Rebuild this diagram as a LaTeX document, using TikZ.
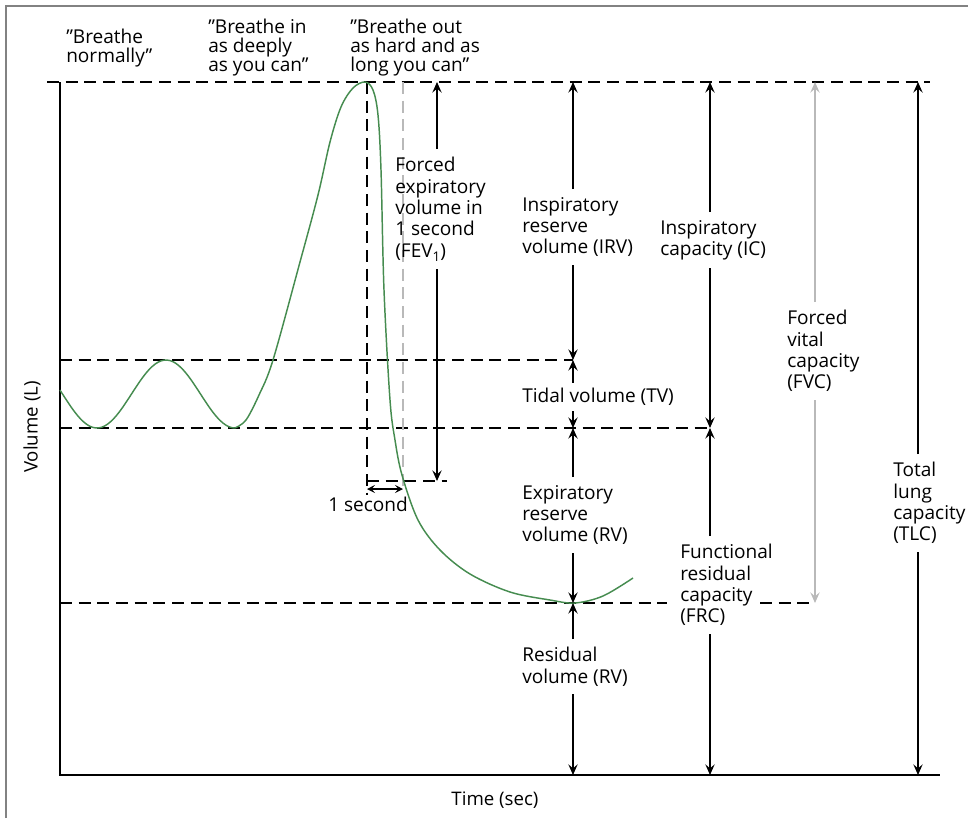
\documentclass[tikz,border=0pt]{standalone}
\usepackage{fontspec}
\setmainfont{Open Sans}
\usetikzlibrary{arrows.meta}
\definecolor{curvegreen}{RGB}{70,140,80}
\definecolor{framegray}{RGB}{130,130,130}
\definecolor{lightgray2}{RGB}{185,185,185}
\newcommand{\dq}{\symbol{34}}
\tikzset{
  dline/.style={line width=1.5pt, dash pattern=on 9pt off 5pt},
  arr/.style={line width=0.9pt, -{Stealth[length=8pt,width=7pt,inset=3pt]}},
  lbl/.style={anchor=north west, inner sep=0pt, align=left, font=\fontsize{14.3}{16}\selectfont},
  qlbl/.style={anchor=north west, inner sep=0pt, align=left, font=\fontsize{14.3}{14.3}\selectfont},
  gap/.style={shorten <=6pt}
}
\begin{document}
\begin{tikzpicture}[x=0.75pt,y=-0.75pt]
\useasboundingbox (0,0) rectangle (968,818);
% frame
\draw[framegray, line width=1.5pt] (6,818) -- (6,6) -- (968,6);
% axes
\coordinate (o) at (60,775);
\coordinate (ytop) at (60,82);
\coordinate (xend) at (940,775);
\draw[line width=1.5pt] (ytop) -- (o) -- (xend);
% dashed levels
\coordinate (d82a) at (47,82);   \coordinate (d82b) at (930,82);
\coordinate (d360a) at (60,360); \coordinate (d360b) at (573,360);
\coordinate (d428a) at (60,428); \coordinate (d428b) at (710,428);
\coordinate (d603a) at (60,603); \coordinate (d603b) at (667,603);
\coordinate (d603c) at (760,603); \coordinate (d603d) at (815,603);
\draw[dline] (d82a) -- (d82b);
\draw[dline] (d360a) -- (d360b);
\draw[dline] (d428a) -- (d428b);
\draw[dline] (d603a) -- (d603b);
\draw[dline] (d603c) -- (d603d);
% FEV1 helpers
\coordinate (v367a) at (367,82); \coordinate (v367b) at (367,495);
\coordinate (v403a) at (403,82); \coordinate (v403b) at (403,490);
\coordinate (f481a) at (367,481); \coordinate (f481b) at (447,481);
\draw[dline] (v367a) -- (v367b);
\draw[dline, lightgray2, line width=1.2pt] (v403a) -- (v403b);
\draw[dline] (f481a) -- (f481b);
% curve: tidal breathing (sine) then forced manoeuvre
\draw[curvegreen, line width=1.1pt] plot[domain=60:235, samples=60, smooth]
  (\x, {394+34*cos(2.6087*(\x-97))});
\draw[curvegreen, line width=1.1pt] plot[smooth, tension=0.55] coordinates {
(235,428) (246,420) (259,395) (273,360) (300,262) (318,195) (330,142) (341,107)
(353,88) (365,82) (373,90) (378,115) (381,170) (384,290) (390,400) (395,440)
(402,475) (418,520) (440,550) (470,574) (510,592) (550,600) (575,603) (603,596) (633,578)};
% one second arrow
\coordinate (s1a) at (367,489); \coordinate (s1b) at (403,489);
\draw[line width=0.9pt, {Stealth[length=6pt,width=6pt,inset=2.5pt]}-{Stealth[length=6pt,width=6pt,inset=2.5pt]}] (s1a) -- (s1b);
% labels
\node[qlbl] (bn) at (66,29) {\dq Breathe\\normally\dq};
\node[qlbl] (bi) at (208,19) {\dq Breathe in\\as deeply\\as you can\dq};
\node[qlbl] (bo) at (350,19) {\dq Breathe out\\as hard and as\\long you can\dq};
\node[lbl] (fev) at (395,157) {Forced\\expiratory\\volume in\\1 second\\(FEV{\fontsize{10}{10}\selectfont\raisebox{-3pt}{1}})};
\node[lbl] (irv) at (522,197) {Inspiratory\\reserve\\volume (IRV)};
\node[lbl] (ic) at (660,220) {Inspiratory\\capacity (IC)};
\node[lbl] (fvc) at (787,310) {Forced\\vital\\capacity\\(FVC)};
\node[lbl] (tv) at (522,388) {Tidal volume (TV)};
\node[lbl] (sec) at (328,497) {1 second};
\node[lbl] (erv) at (522,485) {Expiratory\\reserve\\volume (RV)};
\node[lbl] (frc) at (680,544) {Functional\\residual\\capacity\\(FRC)};
\node[lbl] (tlc) at (893,462) {Total\\lung\\capacity\\(TLC)};
\node[lbl] (rv) at (522,647) {Residual\\volume (RV)};
\node[font=\fontsize{14}{16}\selectfont, rotate=90] (vol) at (32,427) {Volume (L)};
\node[font=\fontsize{14}{16}\selectfont] (time) at (495,800) {Time (sec)};
% arrow coordinates
\coordinate (fevT) at (437,82);  \coordinate (fevB) at (437,481);
\coordinate (c573a) at (573,82); \coordinate (c573b) at (573,360);
\coordinate (c573c) at (573,428); \coordinate (c573d) at (573,603);
\coordinate (c573e) at (573,775);
\coordinate (c710a) at (710,82); \coordinate (c710b) at (710,428);
\coordinate (c710c) at (710,775);
\coordinate (c815a) at (815,82); \coordinate (c815b) at (815,603);
\coordinate (c918a) at (918,82); \coordinate (c918b) at (918,775);
% FEV1
\draw[arr,gap] (fev.north -| fevT) -- (fevT);
\draw[arr,gap] (fev.south -| fevT) -- (fevB);
% IRV
\draw[arr,gap] (irv.north -| c573a) -- (c573a);
\draw[arr,gap] (irv.south -| c573a) -- (c573b);
% TV
\draw[arr,shorten <=4pt] (tv.north -| c573a) -- (c573b);
\draw[arr,shorten <=4pt] (tv.south -| c573a) -- (c573c);
% ERV
\draw[arr,gap] (erv.north -| c573a) -- (c573c);
\draw[arr,gap] (erv.south -| c573a) -- (c573d);
% RV
\draw[arr,gap] (rv.north -| c573a) -- (c573d);
\draw[arr,gap] (rv.south -| c573a) -- (c573e);
% IC
\draw[arr,gap] (ic.north -| c710a) -- (c710a);
\draw[arr,gap] (ic.south -| c710a) -- (c710b);
% FRC
\draw[arr,gap] (frc.north -| c710a) -- (c710b);
\draw[arr,gap] (frc.south -| c710a) -- (c710c);
% FVC
\draw[arr,gap,lightgray2] (fvc.north -| c815a) -- (c815a);
\draw[arr,gap,lightgray2] (fvc.south -| c815a) -- (c815b);
% TLC
\draw[arr,gap] (tlc.north -| c918a) -- (c918a);
\draw[arr,gap] (tlc.south -| c918a) -- (c918b);
\end{tikzpicture}
\end{document}
